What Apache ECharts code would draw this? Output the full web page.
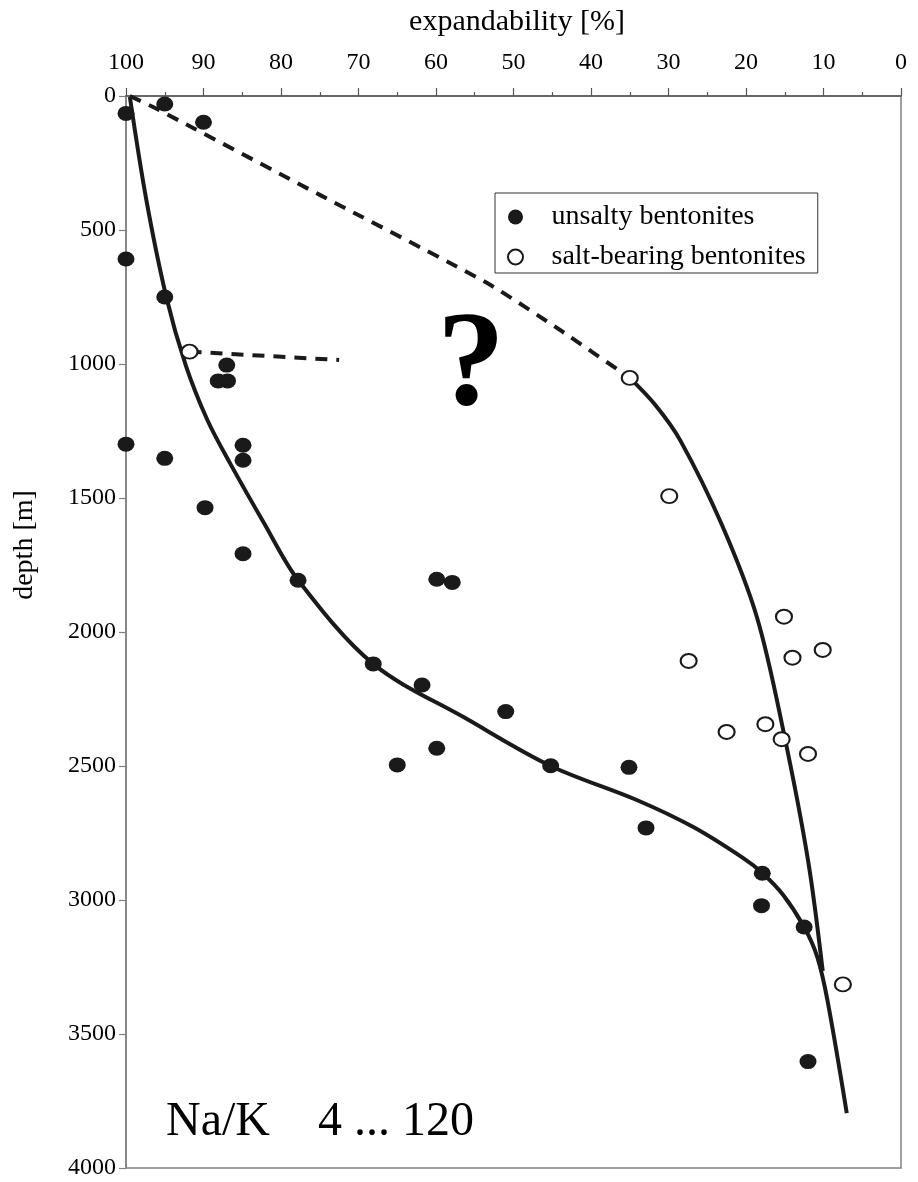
<!DOCTYPE html>
<html>
<head>
<meta charset="utf-8">
<script src="https://cdn.jsdelivr.net/npm/echarts@6/dist/echarts.min.js"></script>
<style>
html,body{margin:0;padding:0;background:#fff;}
#chart{width:918px;height:1182px;}
</style>
</head>
<body>
<div id="chart"></div>
<script>
// ---- data ----
const xTicks = [100, 90, 80, 70, 60, 50, 40, 30, 20, 10, 0];
const depthTicks = [0, 500, 1000, 1500, 2000, 2500, 3000, 3500, 4000];

const unsaltyX = [100, 95, 90, 100, 95, 87, 88.1, 86.9, 100, 95, 84.9, 84.9, 89.8, 84.9, 77.8, 59.9, 57.9, 68.1, 61.8, 51.0, 59.9, 65.0, 45.2, 35.1, 32.9, 17.9, 18.0, 12.5, 12.0];
const unsaltyDepth = [65, 30, 98, 608, 750, 1004, 1063, 1063, 1299, 1352, 1303, 1359, 1536, 1708, 1807, 1803, 1815, 2119, 2198, 2297, 2434, 2496, 2499, 2505, 2731, 2900, 3021, 3101, 3603];

const saltX = [91.8, 35.0, 29.9, 15.1, 10.1, 14.0, 27.4, 17.5, 22.5, 15.4, 12.0, 7.5];
const saltDepth = [954, 1052, 1493, 1943, 2067, 2096, 2108, 2344, 2373, 2400, 2455, 3315];

const mainTrendX = [99.5, 97.4, 94.8, 92.3, 89.5, 86.6, 82.2, 77.8, 68.1, 56.0, 45.2, 34.1, 26.8, 20.4, 17.9, 15.2, 12.5, 10.8, 9.5, 7.0];
const mainTrendDepth = [4, 384, 750, 1004, 1209, 1369, 1593, 1806, 2119, 2325, 2500, 2627, 2728, 2843, 2899, 2981, 3101, 3213, 3373, 3795];

const saltTrendX = [35.0, 31.7, 28.5, 23.1, 18.6, 15.2, 12.0, 10.1];
const saltTrendDepth = [1052, 1153, 1284, 1601, 1944, 2366, 2851, 3265];

const dashUpperX = [99.5, 96.5, 75.0, 53.4, 44.0, 35.0];
const dashUpperDepth = [0, 41, 369, 698, 873, 1052];

const dashShortX = [91.8, 72.5];
const dashShortDepth = [954, 985];

const seriesNames = ['unsalty bentonites', 'salt-bearing bentonites'];

// ---- build ----
const zip = (xs, ys) => xs.map((x, i) => [x, ys[i]]);
const FONT = '"Liberation Serif", "Times New Roman", serif';
const INK = '#1a1a1a';

const chart = echarts.init(document.getElementById('chart'), null, {renderer: 'canvas'});

const option = {
  animation: false,
  backgroundColor: '#ffffff',
  grid: {
    left: 126, right: 17, top: 96, bottom: 14,
    show: true, borderColor: '#808080', borderWidth: 1.5, containLabel: false
  },
  xAxis: {
    type: 'value', position: 'top', inverse: true,
    min: 0, max: 100, interval: 10,
    axisLine: {show: true, onZero: false, lineStyle: {color: '#555', width: 1.5}},
    axisTick: {show: true, inside: false, length: 8, lineStyle: {color: '#555', width: 1.2}},
    minorTick: {show: true, splitNumber: 2, length: 4, lineStyle: {color: '#555', width: 1.2}},
    splitLine: {show: false},
    axisLabel: {
      show: true, margin: 21, color: '#000', fontFamily: FONT, fontSize: 24,
      formatter: v => xTicks.includes(v) ? String(v) : ''
    }
  },
  yAxis: {
    type: 'value', inverse: true,
    min: 0, max: 4000, interval: 500,
    axisLine: {show: true, onZero: false, lineStyle: {color: '#808080', width: 1.5}},
    axisTick: {show: true, inside: false, length: 7, lineStyle: {color: '#808080', width: 1.2}},
    splitLine: {show: false},
    axisLabel: {
      show: true, margin: 10, color: '#000', fontFamily: FONT, fontSize: 24,
      formatter: v => depthTicks.includes(v) ? String(v) : ''
    }
  },
  legend: {
    data: seriesNames,
    orient: 'vertical',
    left: 495, top: 193,
    padding: [10, 12, 2, 12],
    itemGap: 12,
    itemWidth: 30, itemHeight: 15,
    borderColor: '#333', borderWidth: 1,
    backgroundColor: '#fff',
    textStyle: {fontFamily: FONT, fontSize: 28, color: '#000', lineHeight: 28, padding: [0, 0, 0, 16]},
    selectedMode: false
  },
  graphic: [
    {type: 'text', x: 517, y: 22, style: {text: 'expandability [%]', font: '30px ' + FONT, fill: '#000', textAlign: 'center', textVerticalAlign: 'middle'}},
    {type: 'text', x: 25, y: 545, rotation: Math.PI / 2, style: {text: 'depth [m]', font: '28px ' + FONT, fill: '#000', textAlign: 'center', textVerticalAlign: 'middle'}},
    {type: 'text', x: 471, y: 369, z: 5, style: {text: '?', font: 'bold 136px ' + FONT, fill: '#000', textAlign: 'center', textVerticalAlign: 'middle'}},
    {type: 'text', x: 166, y: 1122, z: 5, style: {text: 'Na/K    4 ... 120', font: '48px ' + FONT, fill: '#000', textAlign: 'left', textVerticalAlign: 'middle'}}
  ],
  series: [
    {
      name: 'trend unsalty', type: 'line', data: zip(mainTrendX, mainTrendDepth),
      smooth: 0.33, showSymbol: false, symbol: 'none', z: 2,
      lineStyle: {color: INK, width: 4}
    },
    {
      name: 'trend salt', type: 'line', data: zip(saltTrendX, saltTrendDepth),
      smooth: 0.33, showSymbol: false, symbol: 'none', z: 2,
      lineStyle: {color: INK, width: 4}
    },
    {
      name: 'upper boundary', type: 'line', data: zip(dashUpperX, dashUpperDepth),
      smooth: 0.2, showSymbol: false, symbol: 'none', z: 2,
      lineStyle: {color: INK, width: 4, type: [12, 9]}
    },
    {
      name: 'short boundary', type: 'line', data: zip(dashShortX, dashShortDepth),
      showSymbol: false, symbol: 'none', z: 2,
      lineStyle: {color: INK, width: 4, type: [12, 9]}
    },
    {
      name: seriesNames[0], type: 'scatter', data: zip(unsaltyX, unsaltyDepth),
      symbol: 'circle', symbolSize: [17, 15], z: 4,
      itemStyle: {color: INK, opacity: 1}
    },
    {
      name: seriesNames[1], type: 'scatter', data: zip(saltX, saltDepth),
      symbol: 'circle', symbolSize: [16, 14], z: 4,
      itemStyle: {color: '#fff', borderColor: INK, borderWidth: 2, opacity: 1}
    }
  ]
};
chart.setOption(option);
</script>
</body>
</html>
